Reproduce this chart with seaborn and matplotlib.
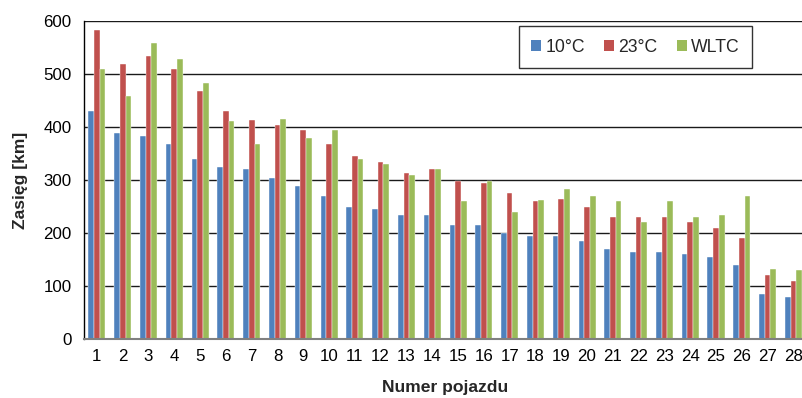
import matplotlib
matplotlib.use("Agg")
import matplotlib.pyplot as plt
from matplotlib.patches import Patch
import seaborn as sns
import pandas as pd

vehicles = [str(i) for i in range(1, 29)]
series_names = ["10°C", "23°C", "WLTC"]
range_10c = [430, 389, 384, 369, 339, 325, 320, 304, 289, 270, 250, 245, 235, 235,
             215, 215, 200, 194, 194, 185, 170, 165, 165, 160, 155, 140, 85, 80]
range_23c = [584, 519, 534, 509, 469, 430, 414, 404, 394, 369, 345, 335, 314, 320,
             299, 294, 275, 260, 265, 250, 230, 230, 230, 220, 209, 190, 120, 110]
range_wltc = [509, 459, 558, 529, 483, 411, 369, 416, 379, 394, 340, 330, 309, 320,
              260, 299, 240, 262, 284, 270, 260, 220, 260, 230, 234, 270, 133, 130]
colors = ["#4F81BD", "#C0504D", "#9BBB59"]

df = pd.DataFrame({
    "vehicle": vehicles * 3,
    "series": [s for s in series_names for _ in vehicles],
    "value": range_10c + range_23c + range_wltc,
})

sns.set_style("white")
plt.rcParams["font.family"] = ["Liberation Sans", "DejaVu Sans"]

fig = plt.figure(figsize=(8.03, 3.98), dpi=100)
ax = fig.add_axes([0.1046, 0.148, 0.8995, 0.799])

sns.barplot(data=df, x="vehicle", y="value", hue="series", order=vehicles,
            hue_order=series_names, palette=colors, width=0.66, ax=ax,
            saturation=1, errorbar=None, legend=False,
            edgecolor="#ffffff", linewidth=0.3)

ax.set_ylim(0, 600)
ax.set_yticks(range(0, 601, 100))
ax.set_xlim(-0.5, 27.5)
ax.yaxis.grid(True, color="#1a1a1a", linewidth=1.0)
ax.set_axisbelow(True)
for s in ["top", "right"]:
    ax.spines[s].set_visible(False)
ax.spines["left"].set_color("#000000")
ax.spines["left"].set_linewidth(1.0)
ax.spines["bottom"].set_color("#808080")
ax.spines["bottom"].set_linewidth(1.5)
ax.tick_params(axis="both", labelsize=12.2, colors="#000000", length=0, pad=7)
ax.tick_params(axis="y", pad=9)

ax.set_xlabel("Numer pojazdu", fontsize=12.6, fontweight="bold", labelpad=12)
ax.set_ylabel("Zasięg [km]", fontsize=12.6, fontweight="bold", labelpad=11)

handles = [Patch(facecolor=c, edgecolor="none") for c in colors]
leg = ax.legend(handles, series_names, ncol=3, loc="upper left",
                bbox_to_anchor=(0.602, 0.984), borderaxespad=0, frameon=True,
                fancybox=False, fontsize=12.7, handlelength=0.55,
                handleheight=0.55, handletextpad=0.25, columnspacing=1.1,
                borderpad=0.7)
leg.get_frame().set_edgecolor("#000000")
leg.get_frame().set_linewidth(1.0)

fig.savefig("out.png", dpi=100)
